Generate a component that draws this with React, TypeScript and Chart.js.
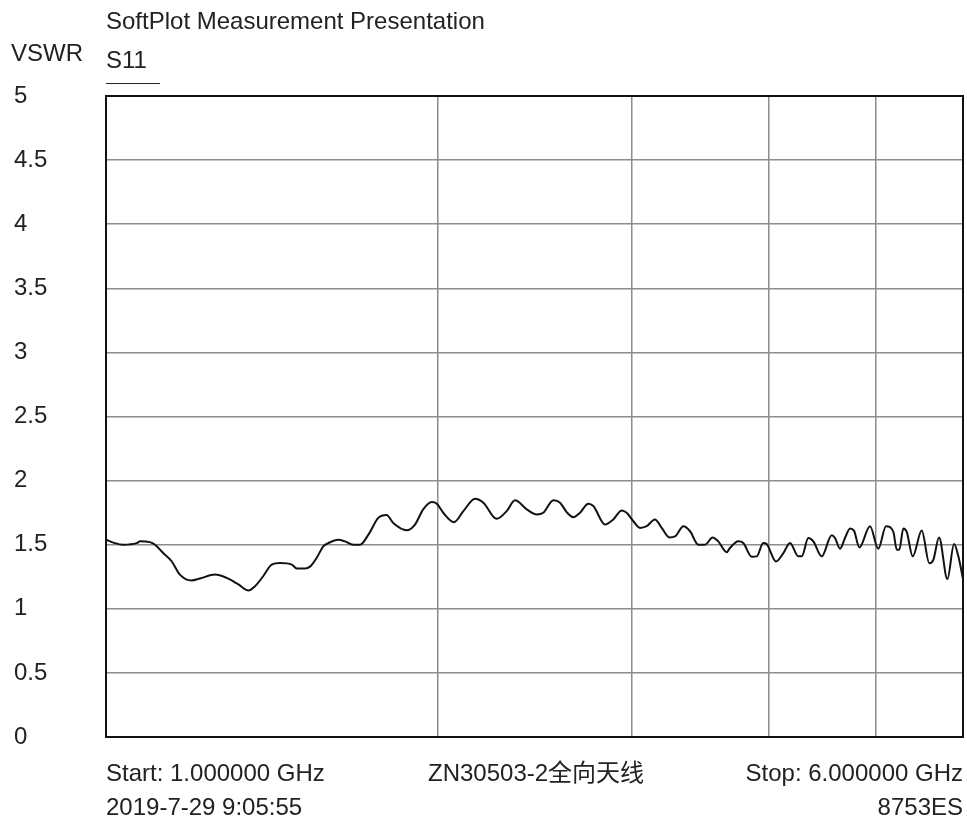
import React, { useEffect, useRef } from 'react';
import { Chart, registerables } from 'chart.js';

Chart.register(...registerables);

// ---- Data ----
const freqGHz = [
  1.000, 1.019, 1.037, 1.066, 1.074, 1.096, 1.108, 1.127, 1.147, 1.167, 1.196, 1.217, 1.256, 1.287,
  1.319, 1.347, 1.366, 1.389, 1.414, 1.439, 1.475, 1.490, 1.516,
  1.532, 1.554, 1.575, 1.592, 1.625, 1.648, 1.677, 1.701, 1.731, 1.767, 1.798, 1.823, 1.875, 1.908,
  1.941, 1.976, 1.997, 2.024, 2.070, 2.111, 2.163, 2.201, 2.263, 2.311, 2.352,
  2.410, 2.461, 2.495, 2.548, 2.584, 2.620, 2.657, 2.694, 2.741, 2.770, 2.839, 2.888, 2.940, 2.970,
  3.012, 3.054, 3.097, 3.151, 3.196, 3.247, 3.286, 3.344, 3.391, 3.450, 3.499, 3.555, 3.597, 3.661,
  3.686, 3.751, 3.790, 3.858, 3.898, 3.952, 3.980, 4.059, 4.121, 4.179, 4.252, 4.283, 4.342, 4.388,
  4.465, 4.560, 4.591, 4.640, 4.688, 4.738, 4.777, 4.831, 4.940, 5.026, 5.108, 5.187, 5.224, 5.252,
  5.296, 5.334, 5.401, 5.504, 5.592, 5.639, 5.707, 5.807, 5.889, 5.942, 6.000,
];

const vswrS11 = [
  1.54, 1.512, 1.50, 1.512, 1.526, 1.52, 1.50, 1.435, 1.371, 1.267, 1.221, 1.236, 1.267, 1.241,
  1.19, 1.143, 1.177, 1.254, 1.345, 1.357, 1.345, 1.314, 1.314,
  1.329, 1.40, 1.487, 1.513, 1.539, 1.526, 1.50, 1.50, 1.579, 1.709, 1.731, 1.67, 1.613, 1.657,
  1.776, 1.833, 1.82, 1.749, 1.676, 1.762, 1.859, 1.828, 1.702, 1.762, 1.846,
  1.776, 1.736, 1.749, 1.846, 1.828, 1.754, 1.715, 1.749, 1.82, 1.802, 1.657, 1.697, 1.767, 1.749,
  1.683, 1.631, 1.644, 1.697, 1.631, 1.557, 1.565, 1.644, 1.605, 1.50, 1.50, 1.557, 1.526, 1.442,
  1.474, 1.526, 1.513, 1.406, 1.409, 1.513, 1.505, 1.369, 1.434, 1.513, 1.409, 1.409, 1.552, 1.526,
  1.409, 1.573, 1.552, 1.469, 1.552, 1.626, 1.61, 1.479, 1.644, 1.469, 1.644, 1.60, 1.461, 1.461,
  1.626, 1.60, 1.409, 1.61, 1.355, 1.381, 1.557, 1.232, 1.505, 1.409, 1.232,
];

const yTickValues = [0, 0.5, 1, 1.5, 2, 2.5, 3, 3.5, 4, 4.5, 5];
const xGridFreqs = [1, 2, 3, 4, 5, 6];

const titleText = 'SoftPlot Measurement Presentation';
const yAxisTitle = 'VSWR';
const traceName = 'S11';
const startLabel = 'Start: 1.000000 GHz';
const centerLabel = 'ZN30503-2全向天线';
const stopLabel = 'Stop: 6.000000 GHz';
const dateLabel = '2019-7-29 9:05:55';
const modelLabel = '8753ES';

const FONT = "'Liberation Sans', Arial, 'Noto Sans CJK SC', sans-serif";
const TEXT_COLOR = '#222';

const annotationsPlugin = {
  id: 'annotations',
  afterDraw(chart: any) {
    const { ctx, chartArea } = chart;
    const { left, right, top, bottom } = chartArea;
    ctx.save();
    // frame
    ctx.strokeStyle = '#111';
    ctx.lineWidth = 2;
    ctx.strokeRect(left, top, right - left, bottom - top);

    ctx.fillStyle = TEXT_COLOR;
    ctx.font = `24px ${FONT}`;
    ctx.textBaseline = 'middle';
    ctx.textAlign = 'left';
    ctx.fillText(titleText, left, 22);
    ctx.fillText(yAxisTitle, 11, 54);
    ctx.fillText(traceName, left, 61);
    // underline under trace name
    ctx.strokeStyle = '#222';
    ctx.lineWidth = 1;
    ctx.beginPath();
    ctx.moveTo(left, 83.5);
    ctx.lineTo(left + 54, 83.5);
    ctx.stroke();

    ctx.fillText(startLabel, left, bottom + 37);
    ctx.fillText(centerLabel, 428, bottom + 37);
    ctx.fillText(dateLabel, left, bottom + 71);
    ctx.textAlign = 'right';
    ctx.fillText(stopLabel, right, bottom + 37);
    ctx.fillText(modelLabel, right, bottom + 71);
    ctx.restore();
  },
};

export default function App() {
  const canvasRef = useRef<HTMLCanvasElement | null>(null);

  useEffect(() => {
    document.body.style.margin = '0';
    document.body.style.background = '#fff';
    const canvas = canvasRef.current;
    if (!canvas) return;
    const chart = new Chart(canvas, {
      type: 'line',
      data: {
        datasets: [
          {
            label: traceName,
            data: freqGHz.map((f, i) => ({ x: f, y: vswrS11[i] })),
            borderColor: '#111',
            borderWidth: 2,
            pointRadius: 0,
            fill: false,
            cubicInterpolationMode: 'monotone',
          },
        ],
      },
      options: {
        animation: false,
        responsive: false,
        devicePixelRatio: 1,
        layout: { padding: { left: 14, top: 96, right: 4, bottom: 86 } },
        plugins: {
          legend: { display: false },
          tooltip: { enabled: false },
          title: { display: false },
        },
        scales: {
          x: {
            type: 'logarithmic',
            min: 1,
            max: 6,
            afterBuildTicks: (scale: any) => {
              scale.ticks = xGridFreqs.map((v) => ({ value: v }));
            },
            afterFit: (scale: any) => {
              scale.height = 0;
            },
            ticks: { display: false },
            grid: { color: '#8c8c8c', lineWidth: 1.5, drawTicks: false },
            border: { display: false },
          },
          y: {
            min: 0,
            max: 5,
            afterBuildTicks: (scale: any) => {
              scale.ticks = yTickValues.map((v) => ({ value: v }));
            },
            afterFit: (scale: any) => {
              scale.width = 92;
            },
            ticks: {
              crossAlign: 'far',
              padding: 0,
              color: TEXT_COLOR,
              font: { family: FONT, size: 24 },
              callback: (v: any) => String(v),
            },
            grid: { color: '#8c8c8c', lineWidth: 1.5, drawTicks: false },
            border: { display: false },
          },
        },
      },
      plugins: [annotationsPlugin],
    } as any);
    return () => chart.destroy();
  }, []);

  return (
    <div style={{ width: 967, height: 823, background: '#fff' }}>
      <canvas ref={canvasRef} width={967} height={823} style={{ display: 'block' }} />
    </div>
  );
}
